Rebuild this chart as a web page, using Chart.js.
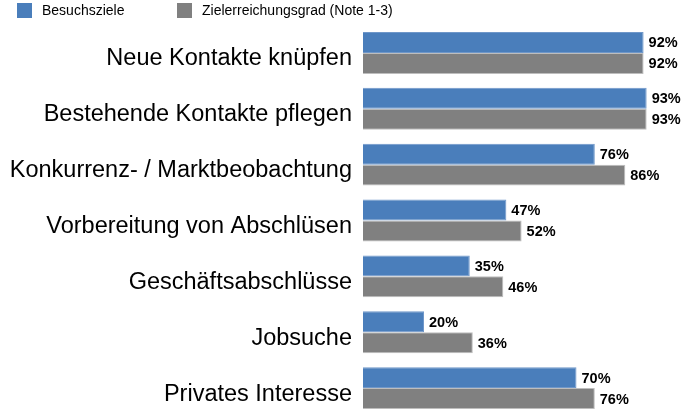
<!DOCTYPE html>
<html>
<head>
<meta charset="utf-8">
<script src="https://cdn.jsdelivr.net/npm/chart.js@4"></script>
<style>
    html, body { margin: 0; padding: 0; overflow: hidden; background: #fff; }
    #wrap { width: 698px; height: 410px; overflow: hidden; }
</style>
</head>
<body>
<div id="wrap"><canvas id="chart" width="698" height="416"></canvas></div>
<script>
const categories = [
    'Neue Kontakte knüpfen',
    'Bestehende Kontakte pflegen',
    'Konkurrenz- / Marktbeobachtung',
    'Vorbereitung von Abschlüsen',
    'Geschäftsabschlüsse',
    'Jobsuche',
    'Privates Interesse'
];
const besuchsziele = [92, 93, 76, 47, 35, 20, 70];
const zielerreichung = [92, 93, 86, 52, 46, 36, 76];
const seriesNames = ['Besuchsziele', 'Zielerreichungsgrad (Note 1-3)'];

// legend drawn by hand, Chart.js legend can't space it like the original
const topLegend = {
    id: 'topLegend',
    afterDraw: function (chart) {
        var ctx = chart.ctx;
        var spots = [[17, 42], [177, 202]];
        ctx.save();
        ctx.font = '14px "Liberation Sans", Arial, sans-serif';
        ctx.textBaseline = 'middle';
        ctx.textAlign = 'left';
        chart.data.datasets.forEach(function (ds, i) {
            ctx.fillStyle = ds.backgroundColor;
            ctx.fillRect(spots[i][0], 3, 15, 15);
            ctx.fillStyle = '#000';
            ctx.fillText(ds.label, spots[i][1], 11);
        });
        ctx.restore();
    }
};

// percent labels right of each bar
const valueLabels = {
    id: 'valueLabels',
    afterDatasetsDraw: function (chart) {
        var ctx = chart.ctx;
        ctx.save();
        ctx.font = 'bold 14.5px "Liberation Sans", Arial, sans-serif';
        ctx.fillStyle = '#000';
        ctx.textAlign = 'left';
        ctx.textBaseline = 'middle';
        chart.data.datasets.forEach(function (ds, i) {
            chart.getDatasetMeta(i).data.forEach(function (bar, j) {
                ctx.fillText(ds.data[j] + '%', bar.x + 5, bar.y + 1);
            });
        });
        ctx.restore();
    }
};

new Chart(document.getElementById('chart').getContext('2d'), {
    type: 'bar',
    data: {
        labels: categories,
        datasets: [{
            label: seriesNames[0],
            data: besuchsziele,
            backgroundColor: '#4a7ebb',
            borderColor: '#6f97c9',
            borderWidth: 1
        }, {
            label: seriesNames[1],
            data: zielerreichung,
            backgroundColor: '#808080',
            borderColor: '#bdbdbd',
            borderWidth: 1
        }]
    },
    options: {
        indexAxis: 'y',
        responsive: false,
        animation: false,
        layout: { padding: { top: 25, right: 30, bottom: 0, left: 0 } },
        datasets: { bar: { barPercentage: 1, categoryPercentage: 0.75 } },
        plugins: {
            legend: { display: false },
            tooltip: { enabled: false }
        },
        scales: {
            x: {
                display: false,
                min: 0,
                max: 100
            },
            y: {
                grid: { display: false },
                border: { display: false },
                ticks: {
                    color: '#000',
                    padding: 3,
                    labelOffset: 6,
                    font: { family: '"Liberation Sans", Arial, sans-serif', size: 23.5 }
                },
                afterFit: function (scale) {
                    scale.width = 363;
                    scale.paddingTop = 0;
                    scale.paddingBottom = 0;
                }
            }
        }
    },
    plugins: [topLegend, valueLabels]
});
</script>
</body>
</html>
